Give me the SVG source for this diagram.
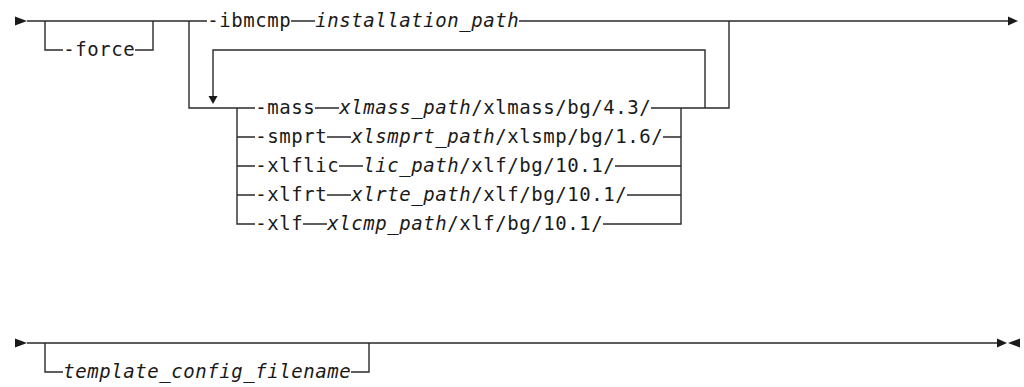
<svg xmlns="http://www.w3.org/2000/svg" width="1024" height="387" viewBox="0 0 1024 387">
<style>
  .ln { fill: none; stroke: #2a2a2a; stroke-width: 1.4; }
  .ah { fill: #1a1a1a; stroke: none; }
  .t { font-family: "DejaVu Sans Mono", "Liberation Mono", monospace; font-size: 19px; letter-spacing: 0.56px; fill: #1a1a1a; }
  .v { font-style: italic; }
</style>
<rect width="1024" height="387" fill="#ffffff"/>
<g id="connectors">
  <!-- top main line -->
  <path class="ln" d="M27 21 H207 M291 21 H315 M519 21 H1008"/>
  <!-- -force optional branch -->
  <path class="ln" d="M45 21 V50 H63 M135 50 H153 V21"/>
  <!-- choice lower branch -->
  <path class="ln" d="M189 21 V108 H255"/>
  <!-- repeat loop -->
  <path class="ln" d="M213 97 V50 H705 V108"/>
  <!-- stack left -->
  <path class="ln" d="M237 108 V224 H255 M237 137 H255 M237 166 H255 M237 195 H255"/>
  <!-- dashes between keyword and variable -->
  <path class="ln" d="M315 108 H339 M327 137 H351 M339 166 H363 M327 195 H351 M303 224 H327"/>
  <!-- stack right -->
  <path class="ln" d="M651 108 H729 V21 M663 137 H681 M615 166 H681 M627 195 H681 M603 224 H681 V108"/>
  <!-- bottom line -->
  <path class="ln" d="M27 343 H997 M45 343 V372 H63 M351 372 H369 V343"/>
  <!-- arrowheads -->
  <polygon class="ah" points="15,16.5 27,21 15,25.5"/>
  <polygon class="ah" points="1008,16.5 1018,21 1008,25.5"/>
  <polygon class="ah" points="208.5,96 217.5,96 213,104"/>
  <polygon class="ah" points="15,338.5 27,343 15,347.5"/>
  <polygon class="ah" points="997,338.5 1007,343 997,347.5"/>
  <polygon class="ah" points="1020,338.5 1008,343 1020,347.5"/>
</g>
<g id="opt-force"><text class="t" x="63.3" y="55.5">-force</text></g>
<g id="opt-ibmcmp">
  <text class="t" x="207.3" y="26.5">-ibmcmp</text>
  <text class="t v" x="315.3" y="26.5">installation_path</text>
</g>
<g id="opt-mass">
  <text class="t" x="255.3" y="113.5">-mass</text>
  <text class="t" x="339.3" y="113.5"><tspan class="v">xlmass_path</tspan>/xlmass/bg/4.3/</text>
</g>
<g id="opt-smprt">
  <text class="t" x="255.3" y="142.5">-smprt</text>
  <text class="t" x="351.3" y="142.5"><tspan class="v">xlsmprt_path</tspan>/xlsmp/bg/1.6/</text>
</g>
<g id="opt-xlflic">
  <text class="t" x="255.3" y="171.5">-xlflic</text>
  <text class="t" x="363.3" y="171.5"><tspan class="v">lic_path</tspan>/xlf/bg/10.1/</text>
</g>
<g id="opt-xlfrt">
  <text class="t" x="255.3" y="200.5">-xlfrt</text>
  <text class="t" x="351.3" y="200.5"><tspan class="v">xlrte_path</tspan>/xlf/bg/10.1/</text>
</g>
<g id="opt-xlf">
  <text class="t" x="255.3" y="229.5">-xlf</text>
  <text class="t" x="327.3" y="229.5"><tspan class="v">xlcmp_path</tspan>/xlf/bg/10.1/</text>
</g>
<g id="opt-template">
  <text class="t v" x="63.3" y="377.5">template_config_filename</text>
</g>
</svg>
